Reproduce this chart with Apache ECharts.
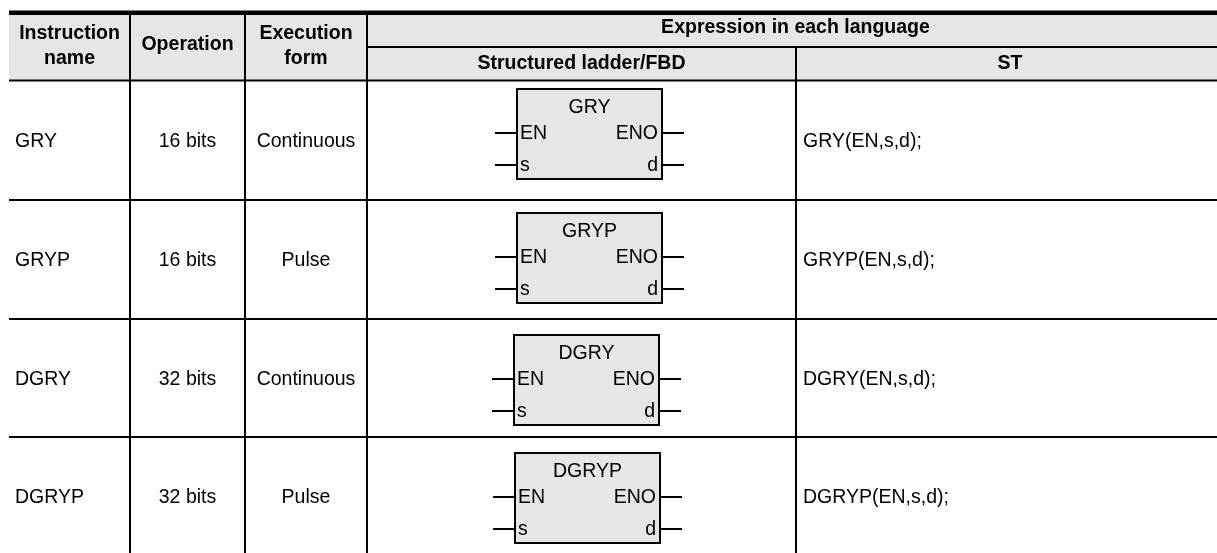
<!DOCTYPE html>
<html>
<head>
<meta charset="utf-8">
<script src="https://cdn.jsdelivr.net/npm/echarts@6/dist/echarts.min.js"></script>
<style>
html,body{margin:0;padding:0;background:#fff;}
#chart{width:1217px;height:553px;}
</style>
</head>
<body>
<div id="chart"></div>
<script>
// ---- data ----
const headerCol1 = ['Instruction', 'name'];
const headerCol2 = ['Operation'];
const headerCol3 = ['Execution', 'form'];
const headerGroup = 'Expression in each language';
const headerSub = ['Structured ladder/FBD', 'ST'];
const instructionNames = ['GRY', 'GRYP', 'DGRY', 'DGRYP'];
const operations = ['16 bits', '16 bits', '32 bits', '32 bits'];
const executionForms = ['Continuous', 'Pulse', 'Continuous', 'Pulse'];
const stExpressions = ['GRY(EN,s,d);', 'GRYP(EN,s,d);', 'DGRY(EN,s,d);', 'DGRYP(EN,s,d);'];
const fbdInputs = ['EN', 's'];
const fbdOutputs = ['ENO', 'd'];

// ---- layout (pixel-like units on hidden value axes) ----
const W = 1217, H = 553;
const LAY = {
  left: 9, right: 1224,
  colX: [130, 245, 367, 796],
  topBorderTop: 10.5, topBorderBottom: 15,
  subY: 47, headBottom: 80.5,
  rowTops: [80.5, 200, 319, 437],
  rowH: 119,
  textLeft1: 15, textLeftST: 803,
  boxTop: [89, 213, 335, 453],
  boxLeft: [517, 517, 514, 515],
  boxW: 145, boxH: 90,
  lead: 22
};
const GRAY = '#e6e6e6';
const FONT = '"Liberation Sans", Arial, sans-serif';
const FS = 19.5;

function txt(p, s, opt) {
  return {
    type: 'text', z2: 10,
    style: Object.assign({
      text: s, x: p[0], y: p[1],
      fill: '#000', fontSize: FS, fontFamily: FONT,
      align: 'center', verticalAlign: 'middle'
    }, opt || {})
  };
}
function hline(api, x1, x2, y, w) {
  const a = api.coord([x1, y]), b = api.coord([x2, y]);
  return { type: 'line', z2: 5, shape: { x1: a[0], y1: a[1], x2: b[0], y2: b[1] }, style: { stroke: '#000', lineWidth: w || 2 } };
}
function vline(api, x, y1, y2, w) {
  const a = api.coord([x, y1]), b = api.coord([x, y2]);
  return { type: 'line', z2: 5, shape: { x1: a[0], y1: a[1], x2: b[0], y2: b[1] }, style: { stroke: '#000', lineWidth: w || 2 } };
}

function renderHeader(params, api) {
  const c = (x, y) => api.coord([x, y]);
  const tl = c(LAY.left, LAY.topBorderBottom), br = c(LAY.right, LAY.headBottom);
  const kids = [];
  kids.push({ type: 'rect', z2: 1, shape: { x: tl[0], y: tl[1], width: br[0] - tl[0], height: br[1] - tl[1] }, style: { fill: GRAY } });
  const bt = c(LAY.left, LAY.topBorderTop);
  kids.push({ type: 'rect', z2: 6, shape: { x: bt[0], y: bt[1], width: br[0] - bt[0], height: tl[1] - bt[1] }, style: { fill: '#000' } });
  kids.push(hline(api, LAY.colX[2], LAY.right, LAY.subY, 2));
  kids.push(hline(api, LAY.left, LAY.right, LAY.headBottom, 2));
  for (let i = 0; i < 3; i++) kids.push(vline(api, LAY.colX[i], LAY.topBorderBottom, H + 5, 2));
  kids.push(vline(api, LAY.colX[3], LAY.subY, H + 5, 2));
  const bold = { fontWeight: 'bold' };
  const cx1 = (LAY.left + LAY.colX[0]) / 2, cx2 = (LAY.colX[0] + LAY.colX[1]) / 2, cx3 = (LAY.colX[1] + LAY.colX[2]) / 2;
  kids.push(txt(c(cx1, 34), headerCol1[0], bold));
  kids.push(txt(c(cx1, 59), headerCol1[1], bold));
  kids.push(txt(c(cx2, 45), headerCol2[0], bold));
  kids.push(txt(c(cx3, 34), headerCol3[0], bold));
  kids.push(txt(c(cx3, 59), headerCol3[1], bold));
  kids.push(txt(c((LAY.colX[2] + LAY.right) / 2, 27.5), headerGroup, bold));
  kids.push(txt(c((LAY.colX[2] + LAY.colX[3]) / 2, 64), headerSub[0], bold));
  kids.push(txt(c((LAY.colX[3] + LAY.right) / 2, 64), headerSub[1], bold));
  return { type: 'group', children: kids };
}

function renderRow(params, api) {
  const i = api.value(0);
  const c = (x, y) => api.coord([x, y]);
  const top = LAY.rowTops[i];
  const bottom = top + LAY.rowH;
  const mid = (top + (i === 0 ? 200 : bottom)) / 2 + 1;
  const kids = [];
  if (i > 0) kids.push(hline(api, LAY.left, LAY.right, top, 2));
  kids.push(txt(c(LAY.textLeft1, mid), instructionNames[i], { align: 'left' }));
  kids.push(txt(c((LAY.colX[0] + LAY.colX[1]) / 2, mid), operations[i]));
  kids.push(txt(c((LAY.colX[1] + LAY.colX[2]) / 2, mid), executionForms[i]));
  kids.push(txt(c(LAY.textLeftST, mid), stExpressions[i], { align: 'left' }));
  const bx = LAY.boxLeft[i], by = LAY.boxTop[i];
  const p1 = c(bx, by), p2 = c(bx + LAY.boxW, by + LAY.boxH);
  kids.push({ type: 'rect', z2: 3, shape: { x: p1[0], y: p1[1], width: p2[0] - p1[0], height: p2[1] - p1[1] }, style: { fill: GRAY, stroke: '#000', lineWidth: 2 } });
  kids.push(txt(c(bx + LAY.boxW / 2, by + 19), instructionNames[i]));
  const pinY = [by + 44, by + 76];
  for (let k = 0; k < 2; k++) {
    kids.push(hline(api, bx - LAY.lead, bx, pinY[k], 2));
    kids.push(hline(api, bx + LAY.boxW, bx + LAY.boxW + LAY.lead, pinY[k], 2));
    kids.push(txt(c(bx + 3, pinY[k] + 1), fbdInputs[k], { align: 'left' }));
    kids.push(txt(c(bx + LAY.boxW - 4, pinY[k] + 1), fbdOutputs[k], { align: 'right' }));
  }
  return { type: 'group', children: kids };
}

const chart = echarts.init(document.getElementById('chart'), null, { renderer: 'canvas' });
chart.setOption({
  animation: false,
  backgroundColor: '#fff',
  grid: { left: 0, right: 0, top: 0, bottom: 0 },
  xAxis: { type: 'value', min: 0, max: W, show: false },
  yAxis: { type: 'value', min: 0, max: H, inverse: true, show: false },
  series: [
    { type: 'custom', renderItem: renderHeader, data: [[0]], silent: true, clip: false },
    { type: 'custom', renderItem: renderRow, data: instructionNames.map((n, i) => [i]), silent: true, clip: false }
  ]
});
</script>
</body>
</html>
